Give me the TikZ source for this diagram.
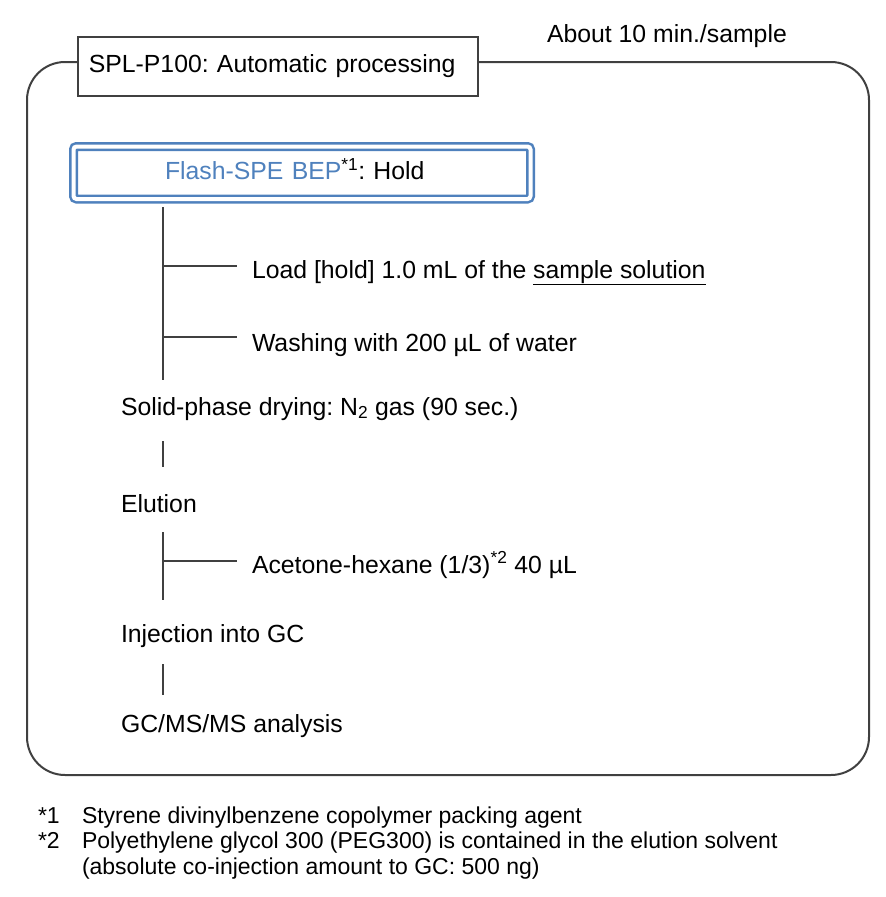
\documentclass[tikz,border=0pt]{standalone}
\usepackage{fontspec}
\setmainfont{Liberation Sans}
\frenchspacing
\usetikzlibrary{positioning, calc}
\definecolor{cline}{HTML}{404040}
\definecolor{cblue}{HTML}{4F81BD}
\tikzset{
  every picture/.style={font=\fontsize{24.8}{29}\selectfont, line width=2pt, x=1pt, y=-1pt},
  frame/.style={draw=cline, line width=2pt, rounded corners=38pt},
  titlebox/.style={draw=cline, fill=white, line width=1.6pt, anchor=north west, minimum height=59pt, text width=378pt, inner xsep=11pt, align=left},
  holdbox/.style={draw=cblue, double=white, double distance=4pt, line width=2.5pt, rounded corners=3pt, minimum width=457pt, minimum height=52.5pt, text width=274pt, inner xsep=91.5pt, align=left, text height=18pt, text depth=5pt},
  link/.style={draw=cline, line width=2pt},
  stage/.style={anchor=base west, inner sep=0pt},
  note/.style={anchor=base west, inner sep=0pt, font=\fontsize{23}{27}\selectfont},
}

\begin{document}
\begin{tikzpicture}
  \useasboundingbox (0,0) rectangle (886,897);
  % outer frame and header
  \draw[frame] (27,62) rectangle (869,775);
  \node[titlebox] (title) at (77,36) {SPL-P100: Automatic processing};
  \node[stage] (time) at (546,42) {About 10 min./sample};
  % hold on the cartridge
  \node[holdbox] (hold) at (302,172.75) {\textcolor{cblue}{Flash-SPE BEP}\textsuperscript{*1}: Hold};
  \coordinate (s1) at (163,207);
  \coordinate (s1end) at (163,380);
  \draw[link] (s1) -- (s1end);
  \node[stage] (load) at (251,278) {Load [hold] 1.0 mL of the \underline{sample solution}};
  \node[stage] (wash) at (251,351) {Washing with 200 µL of water};
  \coordinate (b1) at (163,266);
  \coordinate (b2) at (163,337);
  \draw[link] (b1) -- ++(74,0);
  \draw[link] (b2) -- ++(74,0);
  % drying and elution
  \node[stage] (dry) at (120,415) {Solid-phase drying: N\textsubscript{2} gas (90 sec.)};
  \node[stage] (elute) at (120,512) {Elution};
  \coordinate (d1) at (163,441);
  \coordinate (d2) at (163,467);
  \draw[link] (d1) -- (d2);
  \coordinate (e1) at (163,532);
  \coordinate (e2) at (163,600);
  \draw[link] (e1) -- (e2);
  \coordinate (b3) at (163,561);
  \draw[link] (b3) -- ++(74,0);
  \node[stage] (solvent) at (251,573) {Acetone-hexane (1/3)\textsuperscript{*2} 40 µL};
  % injection and analysis
  \node[stage] (inject) at (120,642) {Injection into GC};
  \node[stage] (gcms) at (120,732) {GC/MS/MS analysis};
  \coordinate (i1) at (163,664);
  \coordinate (i2) at (163,695);
  \draw[link] (i1) -- (i2);
  % footnotes
  \node[note] (n1) at (37,823) {*1};
  \node[note] (t1) at (81,823) {Styrene divinylbenzene copolymer packing agent};
  \node[note] (n2) at (37,848) {*2};
  \node[note] (t2) at (81,848) {Polyethylene glycol 300 (PEG300) is contained in the elution solvent};
  \node[note] (t3) at (81,874) {(absolute co-injection amount to GC: 500 ng)};
\end{tikzpicture}
\end{document}
